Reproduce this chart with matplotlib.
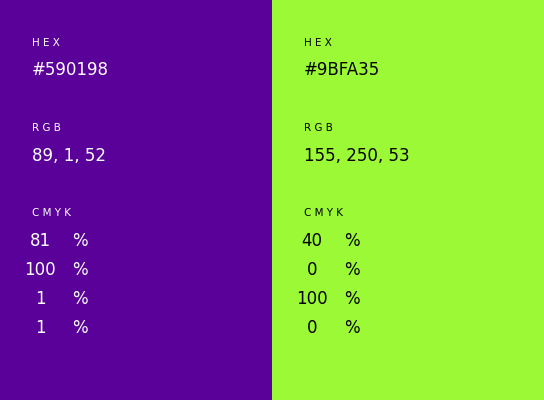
import matplotlib
matplotlib.use("Agg")
import matplotlib.pyplot as plt
from matplotlib.patches import Rectangle

hex_codes = ["#590198", "#9BFA35"]
rgb_values = [[89, 1, 52], [155, 250, 53]]
cmyk_values = [[81, 100, 1, 1], [40, 0, 100, 0]]
text_colors = ["white", "black"]

fig = plt.figure(figsize=(5.44, 4.0), dpi=100)
ax = fig.add_axes([0, 0, 1, 1])
ax.set_xlim(0, 544)
ax.set_ylim(400, 0)
ax.axis("off")

panel_w = 272
for i, hx in enumerate(hex_codes):
    x0 = i * panel_w
    ax.add_patch(Rectangle((x0, 0), panel_w, 400, color=hx, lw=0))
    c = text_colors[i]
    lx = x0 + 32
    lab = dict(color=c, fontsize=7.5, va="center", ha="left", family="DejaVu Sans")
    big = dict(color=c, fontsize=12, va="center", family="DejaVu Sans")
    ax.text(lx, 43, "H E X", **lab)
    ax.text(lx, 70, hx.upper(), ha="left", **big)
    ax.text(lx, 128, "R G B", **lab)
    ax.text(lx, 156, ", ".join(str(v) for v in rgb_values[i]), ha="left", **big)
    ax.text(lx, 213, "C M Y K", **lab)
    for j, v in enumerate(cmyk_values[i]):
        y = 241 + j * 29
        ax.text(x0 + 40, y, str(v), ha="center", **big)
        ax.text(x0 + 80, y, "%", ha="center", **big)

fig.savefig("out.png", dpi=100)
